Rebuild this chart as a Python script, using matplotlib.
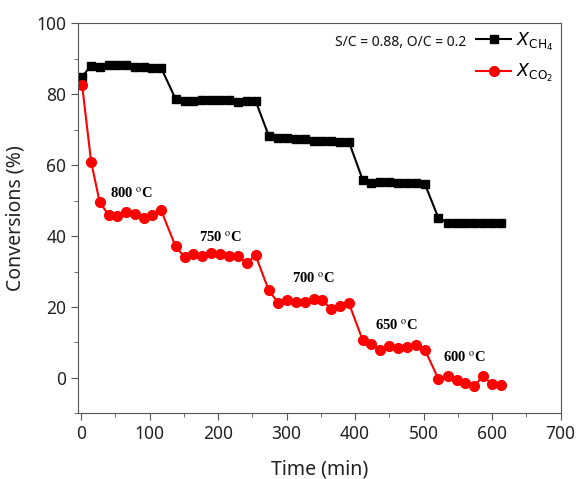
import matplotlib
matplotlib.use("Agg")
import matplotlib.pyplot as plt
from matplotlib.ticker import MultipleLocator

plt.rcParams['font.family'] = ['Noto Sans', 'DejaVu Sans']
plt.rcParams['mathtext.fontset'] = 'dejavusans'

# CH4 conversion
t_ch4 = [1.6, 14.7, 27.3, 40.4, 52.6, 65.7, 78.3, 91.4, 104, 116.8,
         138, 151, 164, 177, 190, 203, 216, 229, 241.5, 254.7,
         274, 287.8, 301, 314, 326.7, 339.8, 352, 365, 378, 391,
         411, 423.8, 437, 449.6, 462.7, 475.4, 488.5, 501.6,
         521.4, 535, 548, 560.8, 573.5, 586.6, 599.7, 612.4]
x_ch4 = [85.0, 88.1, 87.8, 88.3, 88.2, 88.2, 87.8, 87.8, 87.5, 87.5,
         78.7, 78.1, 78.1, 78.5, 78.5, 78.4, 78.5, 77.9, 78.2, 78.2,
         68.3, 67.6, 67.8, 67.3, 67.3, 66.8, 66.8, 66.8, 66.6, 66.6,
         55.9, 55.1, 55.4, 55.4, 55.1, 55.1, 55.1, 54.8,
         45.2, 43.8, 43.8, 43.8, 43.8, 43.8, 43.8, 43.8]

# CO2 conversion
t_co2 = t_ch4
x_co2 = [82.6, 61.0, 49.5, 46.0, 45.7, 46.8, 46.3, 45.0, 46.0, 47.3,
         37.1, 34.1, 34.9, 34.3, 35.2, 34.9, 34.4, 34.4, 32.4, 34.6,
         24.7, 21.2, 22.0, 21.4, 21.4, 22.4, 21.9, 19.5, 20.4, 21.0,
         10.7, 9.6, 8.0, 9.1, 8.5, 8.8, 9.2, 8.0,
         -0.2, 0.6, -0.6, -1.5, -2.3, 0.5, -1.8, -2.0]

temps = ['800', '750', '700', '650', '600']
temp_x = [73.5, 204, 340, 461, 560]
temp_y = [51.9, 39.7, 27.9, 14.7, 5.8]

fig = plt.figure(figsize=(5.77, 4.79), dpi=100)
ax = fig.add_axes([0.1357, 0.137, 0.836, 0.814])

ax.plot(t_ch4, x_ch4, color='black', marker='s', markersize=6, linewidth=1.5,
        label=r'$X_{\mathrm{CH_4}}$')
ax.plot(t_co2, x_co2, color='red', marker='o', markersize=7, linewidth=1.5,
        label=r'$X_{\mathrm{CO_2}}$')

for tx, ty, lab in zip(temp_x, temp_y, temps):
    ax.text(tx, ty, lab + ' $^{\\mathrm{o}}$C', ha='center', va='center', fontsize=10.5,
            fontweight='bold', family='Liberation Serif', math_fontfamily='stix')

ax.set_xlim(-4, 700)
ax.set_ylim(-10, 100)
ax.xaxis.set_major_locator(MultipleLocator(100))
ax.xaxis.set_minor_locator(MultipleLocator(50))
ax.yaxis.set_major_locator(MultipleLocator(20))
ax.yaxis.set_minor_locator(MultipleLocator(10))
ax.tick_params(which='both', direction='out', colors='#555555', labelcolor='#222222',
               labelsize=12.5)
ax.tick_params(which='major', length=5)
ax.tick_params(which='minor', length=3)
for s in ax.spines.values():
    s.set_color('#555555')

ax.set_xlabel('Time (min)', fontsize=14, color='#222222', labelpad=12)
ax.set_ylabel('Conversions (%)', fontsize=14, color='#222222', labelpad=8)

leg = ax.legend(loc='upper right', frameon=False, fontsize=12.5, handlelength=2.0,
                handletextpad=0.3, labelspacing=0.55, borderaxespad=0.0)
ax.text(0.805, 0.952, 'S/C = 0.88, O/C = 0.2', transform=ax.transAxes,
        ha='right', va='center', fontsize=10, color='#111111')

fig.savefig('out.png', dpi=100)
